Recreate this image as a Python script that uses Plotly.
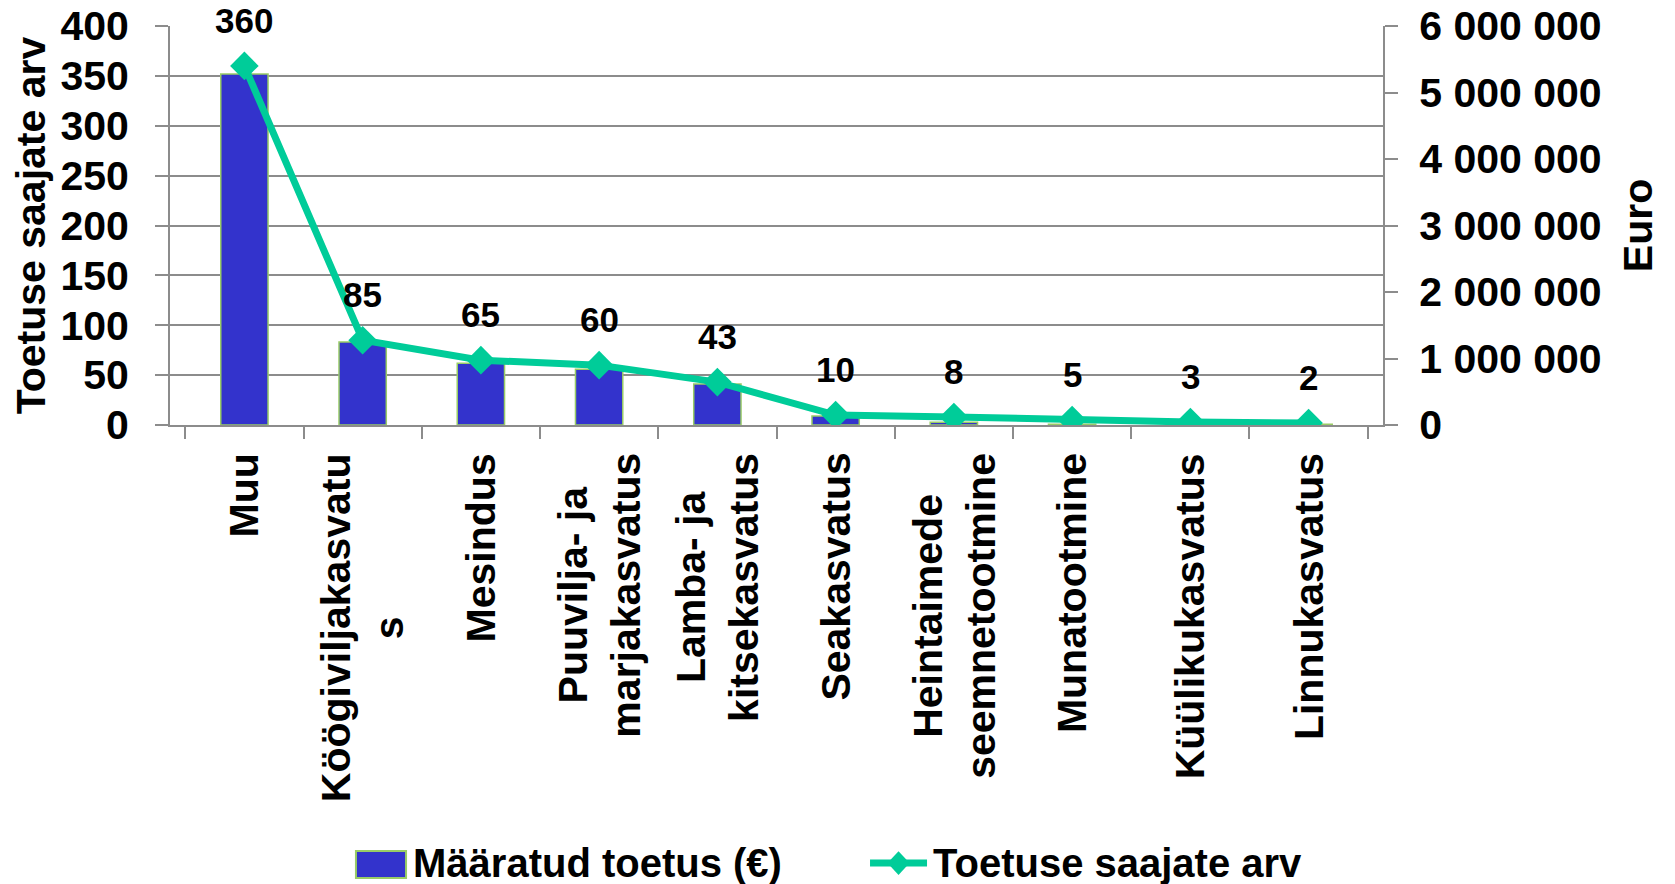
import plotly.graph_objects as go

# data
categories = ["Muu", "Köögiviljakasvatus", "Mesindus", "Puuvilja- ja marjakasvatus",
              "Lamba- ja kitsekasvatus", "Seakasvatus", "Heintaimede seemnetootmine",
              "Munatootmine", "Küülikukasvatus", "Linnukasvatus"]
tick_labels = ["Muu", "Köögiviljakasvatu<br>s", "Mesindus", "Puuvilja- ja<br>marjakasvatus",
               "Lamba- ja<br>kitsekasvatus", "Seakasvatus", "Heintaimede<br>seemnetootmine",
               "Munatootmine", "Küülikukasvatus", "Linnukasvatus"]
toetus_eur = [5280000, 1250000, 930000, 840000, 615000, 135000, 40000, 12000, 6000, 10000]
saajate_arv = [360, 85, 65, 60, 43, 10, 8, 5, 3, 2]

FONT = "Liberation Sans, Arial, sans-serif"
GRAY = "#8c8c8c"
BAR = "#3333cc"
BAR_EDGE = "#99cc66"
LINE = "#00cc99"

fig = go.Figure()

# bars on the right (euro) axis, line on the left axis drawn on top
fig.add_trace(go.Bar(
    x=categories, y=toetus_eur, name="Määratud toetus (€)",
    marker=dict(color=BAR, line=dict(color=BAR_EDGE, width=1.5)),
    yaxis="y", showlegend=False,
))
fig.add_trace(go.Scatter(
    x=categories, y=saajate_arv, name="Toetuse saajate arv",
    mode="lines+markers", yaxis="y2",
    line=dict(color=LINE, width=7),
    marker=dict(symbol="diamond", size=22, color=LINE),
    showlegend=False,
))

# value labels above the line points
for c, v in zip(categories, saajate_arv):
    fig.add_annotation(x=c, y=v, xref="x", yref="y2", text=str(v), showarrow=False,
                       yanchor="bottom", yshift=24,
                       font=dict(family=FONT, size=35, color="black", weight="bold"))

# category labels: rotated, lines centred on each other
for c, lab in zip(categories, tick_labels):
    fig.add_annotation(x=c, y=0, xref="x", yref="paper", text=lab, showarrow=False,
                       textangle=-90, align="center", xanchor="center", yanchor="top",
                       yshift=-26,
                       font=dict(family=FONT, size=41, color="black", weight="bold"))

# page body has an 8px margin, so the figure is a bit smaller and margins shifted
fig.update_layout(
    width=1667, height=876,
    margin=dict(l=162, r=292, t=18, b=459),
    paper_bgcolor="white", plot_bgcolor="white",
    separators=". ",
    bargap=0.6,
    font=dict(family=FONT, color="black"),
    xaxis=dict(
        tickson="boundaries", ticks="outside", ticklen=12,
        tickcolor=GRAY, tickwidth=2, showline=True, linecolor=GRAY, linewidth=2,
        showticklabels=False, automargin=False,
    ),
    yaxis=dict(
        side="right", range=[0, 6000000], dtick=1000000, tickformat=",d",
        showgrid=False, showline=True, linecolor=GRAY, linewidth=2,
        ticks="outside", ticklen=13, tickcolor=GRAY, tickwidth=2,
        tickfont=dict(family=FONT, size=41, color="black", weight="bold"),
        ticklabelstandoff=13, ticklabeloverflow="allow", automargin=False,
        title=dict(text="Euro", standoff=23,
                   font=dict(family=FONT, size=41, color="black", weight="bold")),
        zeroline=False,
    ),
    yaxis2=dict(
        side="left", overlaying="y", range=[0, 400], dtick=50,
        showgrid=True, gridcolor=GRAY, gridwidth=2,
        showline=True, linecolor=GRAY, linewidth=2,
        ticks="outside", ticklen=13, tickcolor=GRAY, tickwidth=2,
        tickfont=dict(family=FONT, size=41, color="black", weight="bold"),
        ticklabelstandoff=18, ticklabeloverflow="allow", automargin=False,
        title=dict(text="Toetuse saajate arv", standoff=10,
                   font=dict(family=FONT, size=41, color="black", weight="bold")),
        zeroline=False,
    ),
)

# legend drawn by hand so the symbols can be as large as in the reference
fig.add_shape(type="rect", xref="paper", yref="paper", x0=0.1533, x1=0.1946, y0=-1.1353, y1=-1.0677,
              fillcolor=BAR, line=dict(color=BAR_EDGE, width=2))
fig.add_annotation(xref="paper", yref="paper", x=0.1987, y=-1.098, xanchor="left", yanchor="middle",
                   text="Määratud toetus (€)", showarrow=False,
                   font=dict(family=FONT, size=40, color="black", weight="bold"))
fig.add_shape(type="line", xref="paper", yref="paper", x0=0.5771, x1=0.6241, y0=-1.098, y1=-1.098,
              line=dict(color=LINE, width=7))
fig.add_shape(type="path", xref="paper", yref="paper",
              path="M 0.6006 -1.068 L 0.6097 -1.098 L 0.6006 -1.128 L 0.5915 -1.098 Z",
              fillcolor=LINE, line=dict(color=LINE, width=0))
fig.add_annotation(xref="paper", yref="paper", x=0.6274, y=-1.098, xanchor="left", yanchor="middle",
                   text="Toetuse saajate arv", showarrow=False,
                   font=dict(family=FONT, size=40, color="black", weight="bold"))

fig.write_html("out.html")
